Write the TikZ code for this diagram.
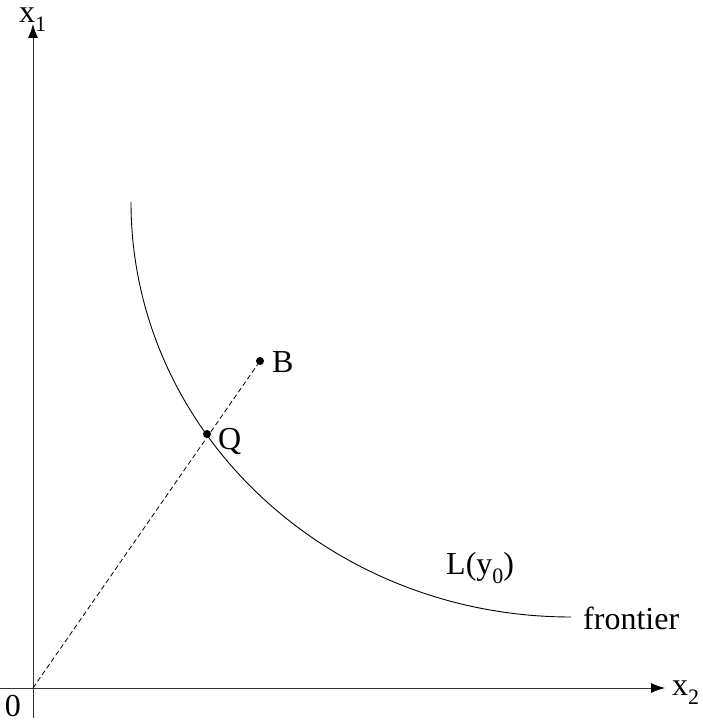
\documentclass[tikz,border=0pt]{standalone}
\usepackage{fontspec}
\setmainfont{Liberation Serif}
\usetikzlibrary{arrows.meta}
\newcommand{\mysub}[1]{\raisebox{-0.28em}{\fontsize{22}{22}\selectfont #1}}
\begin{document}
\begin{tikzpicture}[x=1pt,y=1pt,
  lbl/.style={inner sep=0pt, font=\fontsize{32}{38}\selectfont},
  axis/.style={line width=0.9pt, draw=black!80, -{Latex[length=14pt,width=10pt,black]}},
  dot/.style={circle, fill=black, inner sep=0pt, minimum size=8pt}]
\useasboundingbox (0,0) rectangle (702,720);
\coordinate (O) at (33,32);
\coordinate (ybot) at (33,2);
\coordinate (ytop) at (33,696);
\coordinate (xleft) at (0,32);
\coordinate (xright) at (665,32);
\coordinate (cstart) at (131,518);
\draw[axis] (ybot) -- (ytop);
\draw[axis] (xleft) -- (xright);
\draw[line width=0.9pt] (cstart) arc[start angle=180, end angle=270, x radius=440, y radius=415] coordinate (cend);
\node[dot] (B) at (260,359) {};
\node[dot] (Q) at (207,286) {};
\draw[line width=0.8pt, dash pattern=on 5pt off 3pt] (O) -- (B);
\node[lbl, anchor=center] (zero) at (13,14) {0};
\node[lbl, anchor=base west] (Blbl) at (272,347) {B};
\node[lbl, anchor=base west] (Qlbl) at (218,270) {Q};
\node[lbl, anchor=base west] (Llbl) at (446,145) {L(y\mysub{0})};
\node[lbl, anchor=base west] (front) at (583,90) {frontier};
\node[lbl, anchor=base west] (x2) at (672,24) {x\mysub{2}};
\node[lbl, anchor=base west] (x1) at (19,697) {x\mysub{1}};
\end{tikzpicture}
\end{document}
